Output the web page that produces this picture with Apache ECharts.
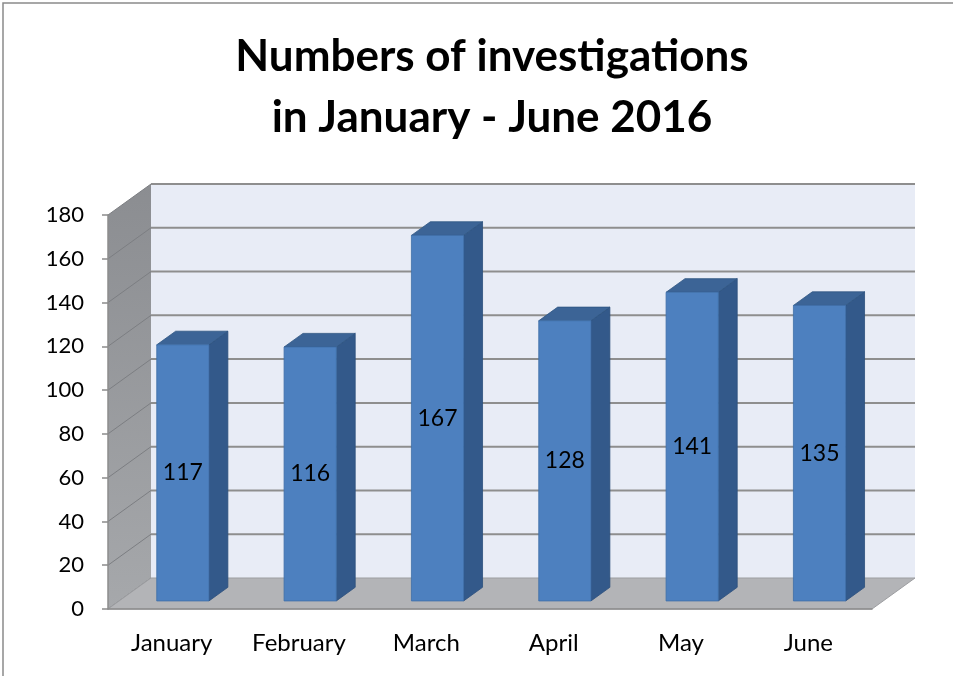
<!DOCTYPE html>
<html>
<head>
<meta charset="utf-8">
<script src="https://cdn.jsdelivr.net/npm/echarts@6/dist/echarts.min.js"></script>
<style>
  html, body { margin: 0; padding: 0; background: #fff; }
  #chart { width: 953px; height: 676px; }
</style>
</head>
<body>
<div id="chart"></div>
<script>
// data
const months = ["January", "February", "March", "April", "May", "June"];
const investigations = [117, 116, 167, 128, 141, 135];
const yTicks = [0, 20, 40, 60, 80, 100, 120, 140, 160, 180];

// 3d look: how far back the back wall sits, and where the bars sit in depth
const DX = 43, DY = -31;
const barFront = 0.26, barBack = 0.70, barWidth = 0.41;
const FONT = "Lato, 'Open Sans', sans-serif";

const chart = echarts.init(document.getElementById("chart"));

function renderScene(params, api) {
  const p0 = api.coord([0, 0]);
  const bw = api.size([1, 0])[0];
  const xl = p0[0] - bw / 2;
  const xr = xl + bw * months.length;
  const yb = p0[1];
  const yt = api.coord([0, yTicks[yTicks.length - 1]])[1];
  const kids = [];

  // back wall
  kids.push({
    type: "polygon",
    shape: { points: [[xl + DX, yt + DY], [xr + DX, yt + DY], [xr + DX, yb + DY], [xl + DX, yb + DY]] },
    style: { fill: "#e8ecf6" }
  });
  // left wall
  kids.push({
    type: "polygon",
    shape: { points: [[xl, yb], [xl, yt], [xl + DX, yt + DY], [xl + DX, yb + DY]] },
    style: {
      fill: new echarts.graphic.LinearGradient(0, 0, 0, 1, [
        { offset: 0, color: "#8b8d91" },
        { offset: 1, color: "#a6a8ab" }
      ])
    }
  });
  // grid lines on back wall + left wall
  yTicks.forEach(function (v) {
    const y = api.coord([0, v])[1];
    if (v > 0) {
      kids.push({
        type: "line",
        shape: { x1: xl + DX, y1: y + DY, x2: xr + DX, y2: y + DY },
        style: { stroke: "#8e8e8e", lineWidth: 2 }
      });
    }
    kids.push({
      type: "line",
      shape: { x1: xl, y1: y, x2: xl + DX, y2: y + DY },
      style: { stroke: "#7c7e82", lineWidth: 1 }
    });
  });
  // floor
  kids.push({
    type: "polygon",
    shape: { points: [[xl, yb], [xl + DX, yb + DY], [xr + DX, yb + DY], [xr, yb]] },
    style: { fill: "#b3b4b7", stroke: "#9d9ea1", lineWidth: 1 }
  });
  return { type: "group", children: kids };
}

function renderBar(params, api) {
  const i = api.value(0);
  const top = api.coord([i, api.value(1)]);
  const base = api.coord([i, 0]);
  const w = api.size([1, 0])[0] * barWidth;
  const x = top[0] + DX * barFront - w / 2;
  const yt = top[1] + DY * barFront;
  const yb = base[1] + DY * barFront;
  const ddx = DX * (barBack - barFront), ddy = DY * (barBack - barFront);
  return {
    type: "group",
    children: [
      {
        type: "polygon",
        shape: { points: [[x + w, yt], [x + w + ddx, yt + ddy], [x + w + ddx, yb + ddy], [x + w, yb]] },
        style: { fill: "#33598a", stroke: "#2c4f7c", lineWidth: 0.8 }
      },
      {
        type: "polygon",
        shape: { points: [[x, yt], [x + ddx, yt + ddy], [x + w + ddx, yt + ddy], [x + w, yt]] },
        style: { fill: "#3c6496", stroke: "#2f5582", lineWidth: 0.8 }
      },
      {
        type: "rect",
        shape: { x: x, y: yt, width: w, height: yb - yt },
        style: { fill: "#4d80bf", stroke: "#3f6ea8", lineWidth: 0.8 }
      },
      {
        type: "text",
        x: x + w / 2,
        y: (yt + yb) / 2,
        style: {
          text: String(api.value(1)),
          fill: "#000",
          font: "23px " + FONT,
          align: "center",
          verticalAlign: "middle"
        }
      }
    ]
  };
}

chart.setOption({
  backgroundColor: "#fff",
  animation: false,
  title: {
    text: "Numbers of investigations\nin January - June 2016",
    left: 487,
    top: 21,
    textAlign: "center",
    textStyle: { fontFamily: FONT, fontWeight: "bold", fontSize: 44, lineHeight: 61, color: "#000" }
  },
  graphic: [{
    type: "rect",
    shape: { x: 3, y: 3, width: 1200, height: 1200 },
    style: { fill: null, stroke: "#8a8a8a", lineWidth: 1.5 },
    silent: true
  }],
  grid: { left: 108, top: 215, width: 764, height: 394 },
  xAxis: {
    type: "category",
    data: months,
    z: 10,
    axisLine: { lineStyle: { color: "#8c8c8c", width: 1.5 } },
    axisTick: { length: 7, lineStyle: { color: "#8c8c8c", width: 1.5 } },
    axisLabel: { color: "#000", fontFamily: FONT, fontSize: 24, margin: 22 }
  },
  yAxis: {
    type: "value",
    min: 0,
    max: yTicks[yTicks.length - 1],
    interval: 20,
    z: 10,
    axisLine: { show: true, lineStyle: { color: "#8c8c8c", width: 1.5 } },
    axisTick: { show: true, length: 6, lineStyle: { color: "#8c8c8c", width: 1.5 } },
    axisLabel: { color: "#000", fontFamily: FONT, fontSize: 22, margin: 24 },
    splitLine: { show: false }
  },
  series: [
    {
      type: "custom",
      z: 1,
      data: [[0, 0]],
      renderItem: renderScene,
      silent: true
    },
    {
      type: "custom",
      z: 2,
      data: investigations.map(function (v, i) { return [i, v]; }),
      renderItem: renderBar
    }
  ]
});
</script>
</body>
</html>
